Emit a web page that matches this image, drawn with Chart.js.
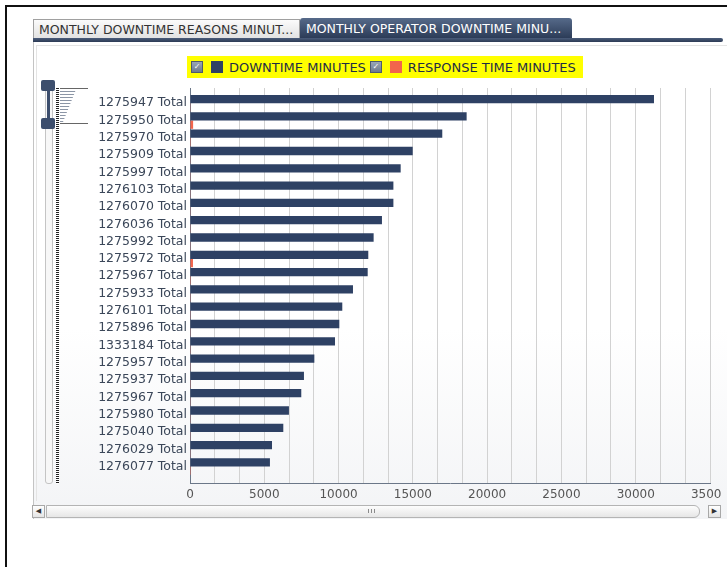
<!DOCTYPE html>
<html lang="en">
<head>
  <meta charset="UTF-8">
  <title>Monthly Operator Downtime Minutes</title>
  <script src="https://cdn.jsdelivr.net/npm/chart.js"></script>
  <style>
    body { margin: 0; width: 727px; height: 567px; overflow: hidden; background: #fff; position: relative;
           font-family: "DejaVu Sans", Verdana, sans-serif; }
    .abs { position: absolute; }
    .frame { left: 5px; top: 5px; width: 800px; height: 600px; border-left: 2px solid #111; border-top: 2px solid #111; }
    .tab1 { left: 33px; top: 19px; width: 260px; height: 18px; padding-left: 5px; line-height: 19px;
            background: linear-gradient(#fbfbfb, #e2e2e2); border: 1px solid #a0a0a0; border-bottom: none;
            color: #333; font-size: 12.5px; white-space: nowrap; }
    .tab2 { left: 300px; top: 18px; width: 266px; height: 20px; padding-left: 6px; line-height: 21px;
            background: linear-gradient(#566a8a, #2c3c58); border-radius: 3px 3px 0 0;
            color: #fff; font-size: 12.5px; white-space: nowrap; }
    .strip { left: 33px; top: 38px; width: 690px; height: 4px; background: linear-gradient(#4a5c7a, #2c3b55); border-radius: 0 2px 2px 0; }
    .panel { left: 33px; top: 42px; width: 700px; height: 477px; border-left: 1px solid #c4c4c4;
             background: linear-gradient(#ffffff 0%, #ffffff 60%, #f3f4f6 100%); }
    .inner { left: 36px; top: 45px; width: 700px; height: 455px; border-left: 1px solid #e4e4e4; border-top: 1px solid #e4e4e4; }
    .legend { left: 187px; top: 56px; width: 396px; height: 22px; background: #ffff00; display: flex; align-items: center;
              font-size: 13px; color: #1f2d45; white-space: nowrap; }
    .chk { width: 10px; height: 10px; border: 1px solid #4d5a6e; background: linear-gradient(#9aa6b6, #6c7a8e);
           color: #fff; font-size: 8px; line-height: 10px; text-align: center; margin-left: 4px; }
    .sw { width: 12px; height: 12px; margin-left: 8px; margin-right: 6px; }
    .track { left: 45px; top: 84px; width: 6px; height: 398px; border: 1px solid #c4c4c4; border-radius: 3px; background: #f7f7f7; }
    .handle { left: 41px; width: 14px; height: 11px; background: #3c4e6d; border-radius: 2px; }
    .bridge { left: 47px; top: 88px; width: 3px; height: 34px; background: #3c4e6d; }
    .dots { left: 56px; top: 88px; width: 3px; height: 396px; background: repeating-linear-gradient(#222 0 1px, #fff 1px 2px); }
    .thumb { left: 60px; top: 88px; width: 28px; height: 36px;
             background: repeating-linear-gradient(#8c96a6 0 1px, transparent 1px 3px);
             clip-path: polygon(0 0, 100% 0, 100% 2px, 55% 3px, 8% 100%, 0 100%); }
    .mark { left: 60px; top: 123px; width: 28px; height: 1px; background: #666; }
    .sbtn { top: 505px; width: 11px; height: 11px; border: 1px solid #a8a8a8; background: linear-gradient(#fff, #e4e4e4);
            font-size: 7px; line-height: 11px; text-align: center; color: #333; }
    .sbar { left: 46px; top: 505px; width: 652px; height: 11px; border: 1px solid #b4b4b4; border-radius: 0 6px 6px 0;
            background: linear-gradient(#fdfdfd, #e6e6e6); }
    .grip { left: 368px; top: 509px; width: 7px; height: 4px;
            background: repeating-linear-gradient(90deg, #8a8a8a 0 1px, transparent 1px 3px); }
    .chartbox { left: 0; top: 0; width: 722px; height: 520px; overflow: hidden; }
  </style>
</head>
<body>

  <div class="abs frame"></div>
  <div class="abs panel"></div>
  <div class="abs inner"></div>
  <div class="abs tab1">MONTHLY DOWNTIME REASONS MINUT...</div>
  <div class="abs tab2">MONTHLY OPERATOR DOWNTIME MINU...</div>
  <div class="abs strip"></div>

  <div class="abs legend" id="legend"></div>

  <div class="abs track"></div>
  <div class="abs bridge"></div>
  <div class="abs handle" style="top:80px"></div>
  <div class="abs handle" style="top:118px"></div>
  <div class="abs dots"></div>
  <div class="abs thumb"></div>
  <div class="abs mark"></div>
  <div class="abs mark" style="top:88px"></div>

  <div class="abs sbtn" style="left:32px">&#9664;</div>
  <div class="abs sbar"></div>
  <div class="abs grip"></div>
  <div class="abs sbtn" style="left:708px">&#9654;</div>

  <div class="abs chartbox">
    <canvas id="downtimeChart" width="760" height="520"></canvas>
  </div>

  <script>
    const operators = [
      "1275947 Total", "1275950 Total", "1275970 Total", "1275909 Total", "1275997 Total",
      "1276103 Total", "1276070 Total", "1276036 Total", "1275992 Total", "1275972 Total",
      "1275967 Total", "1275933 Total", "1276101 Total", "1275896 Total", "1333184 Total",
      "1275957 Total", "1275937 Total", "1275967 Total", "1275980 Total", "1275040 Total",
      "1276029 Total", "1276077 Total"
    ];
    const downtimeMinutes = [31230, 18620, 16980, 14990, 14180, 13690, 13690, 12920, 12360, 12000,
                             11960, 10970, 10250, 10050, 9760, 8370, 7670, 7490, 6660, 6280, 5520, 5380];
    const responseMinutes = [20, 210, 60, 20, 20, 20, 20, 20, 20, 200,
                             60, 50, 20, 20, 50, 20, 50, 20, 20, 20, 20, 60];
    const seriesNames = ["DOWNTIME MINUTES", "RESPONSE TIME MINUTES"];
    const seriesColors = ["#2e4164", "#f2654c"];
    const xTickLabels = [0, 5000, 10000, 15000, 20000, 25000, 30000, 35000];

    // three grid lines per labelled step
    const xGrid = [];
    xTickLabels.forEach((t, i) => {
      xGrid.push(t);
      if (i < xTickLabels.length - 1) {
        const step = (xTickLabels[i + 1] - t) / 3;
        xGrid.push(t + step, t + 2 * step);
      }
    });

    // html legend with the checkbox look
    const legend = document.getElementById("legend");
    seriesNames.forEach((name, i) => {
      legend.insertAdjacentHTML("beforeend",
        `<span class="chk">&#10003;</span><span class="sw" style="background:${seriesColors[i]}"></span><span>${name}</span>`);
    });

    const ctx = document.getElementById("downtimeChart").getContext("2d");

    new Chart(ctx, {
      type: "bar",
      data: {
        datasets: [
          {
            label: seriesNames[0],
            data: downtimeMinutes.map((v, i) => ({ x: v, y: i })),
            backgroundColor: seriesColors[0]
          },
          {
            label: seriesNames[1],
            data: responseMinutes.map((v, i) => ({ x: v, y: i })),
            backgroundColor: seriesColors[1]
          }
        ]
      },
      options: {
        indexAxis: "y",
        responsive: false,
        animation: false,
        categoryPercentage: 0.96,
        barPercentage: 1,
        layout: { padding: { top: 88, right: 50, bottom: 0, left: 0 } },
        plugins: { legend: { display: false }, tooltip: { enabled: false } },
        scales: {
          x: {
            type: "linear",
            min: 0,
            max: 35000,
            afterBuildTicks: s => { s.ticks = xGrid.map(v => ({ value: v })); },
            afterFit: s => { s.height = 37; },
            grid: { color: "#d2d2d2", drawTicks: false },
            border: { color: "#6b7788" },
            ticks: {
              autoSkip: false,
              maxRotation: 0,
              padding: 5,
              color: "#555",
              font: { family: "DejaVu Sans", size: 12 },
              callback: v => xTickLabels.includes(v) ? v : ""
            }
          },
          y: {
            type: "linear",
            reverse: true,
            offset: false,
            min: -0.88,
            max: 21.95,
            afterBuildTicks: s => { s.ticks = operators.map((_, i) => ({ value: i })); },
            afterFit: s => { s.width = 190; },
            grid: { display: false, drawTicks: false, offset: false },
            border: { color: "#6b7788" },
            ticks: {
              autoSkip: false,
              padding: 3,
              color: "#3b4759",
              font: { family: "DejaVu Sans", size: 12.5 },
              callback: v => operators[v]
            }
          }
        }
      }
    });
  </script>

</body>
</html>
